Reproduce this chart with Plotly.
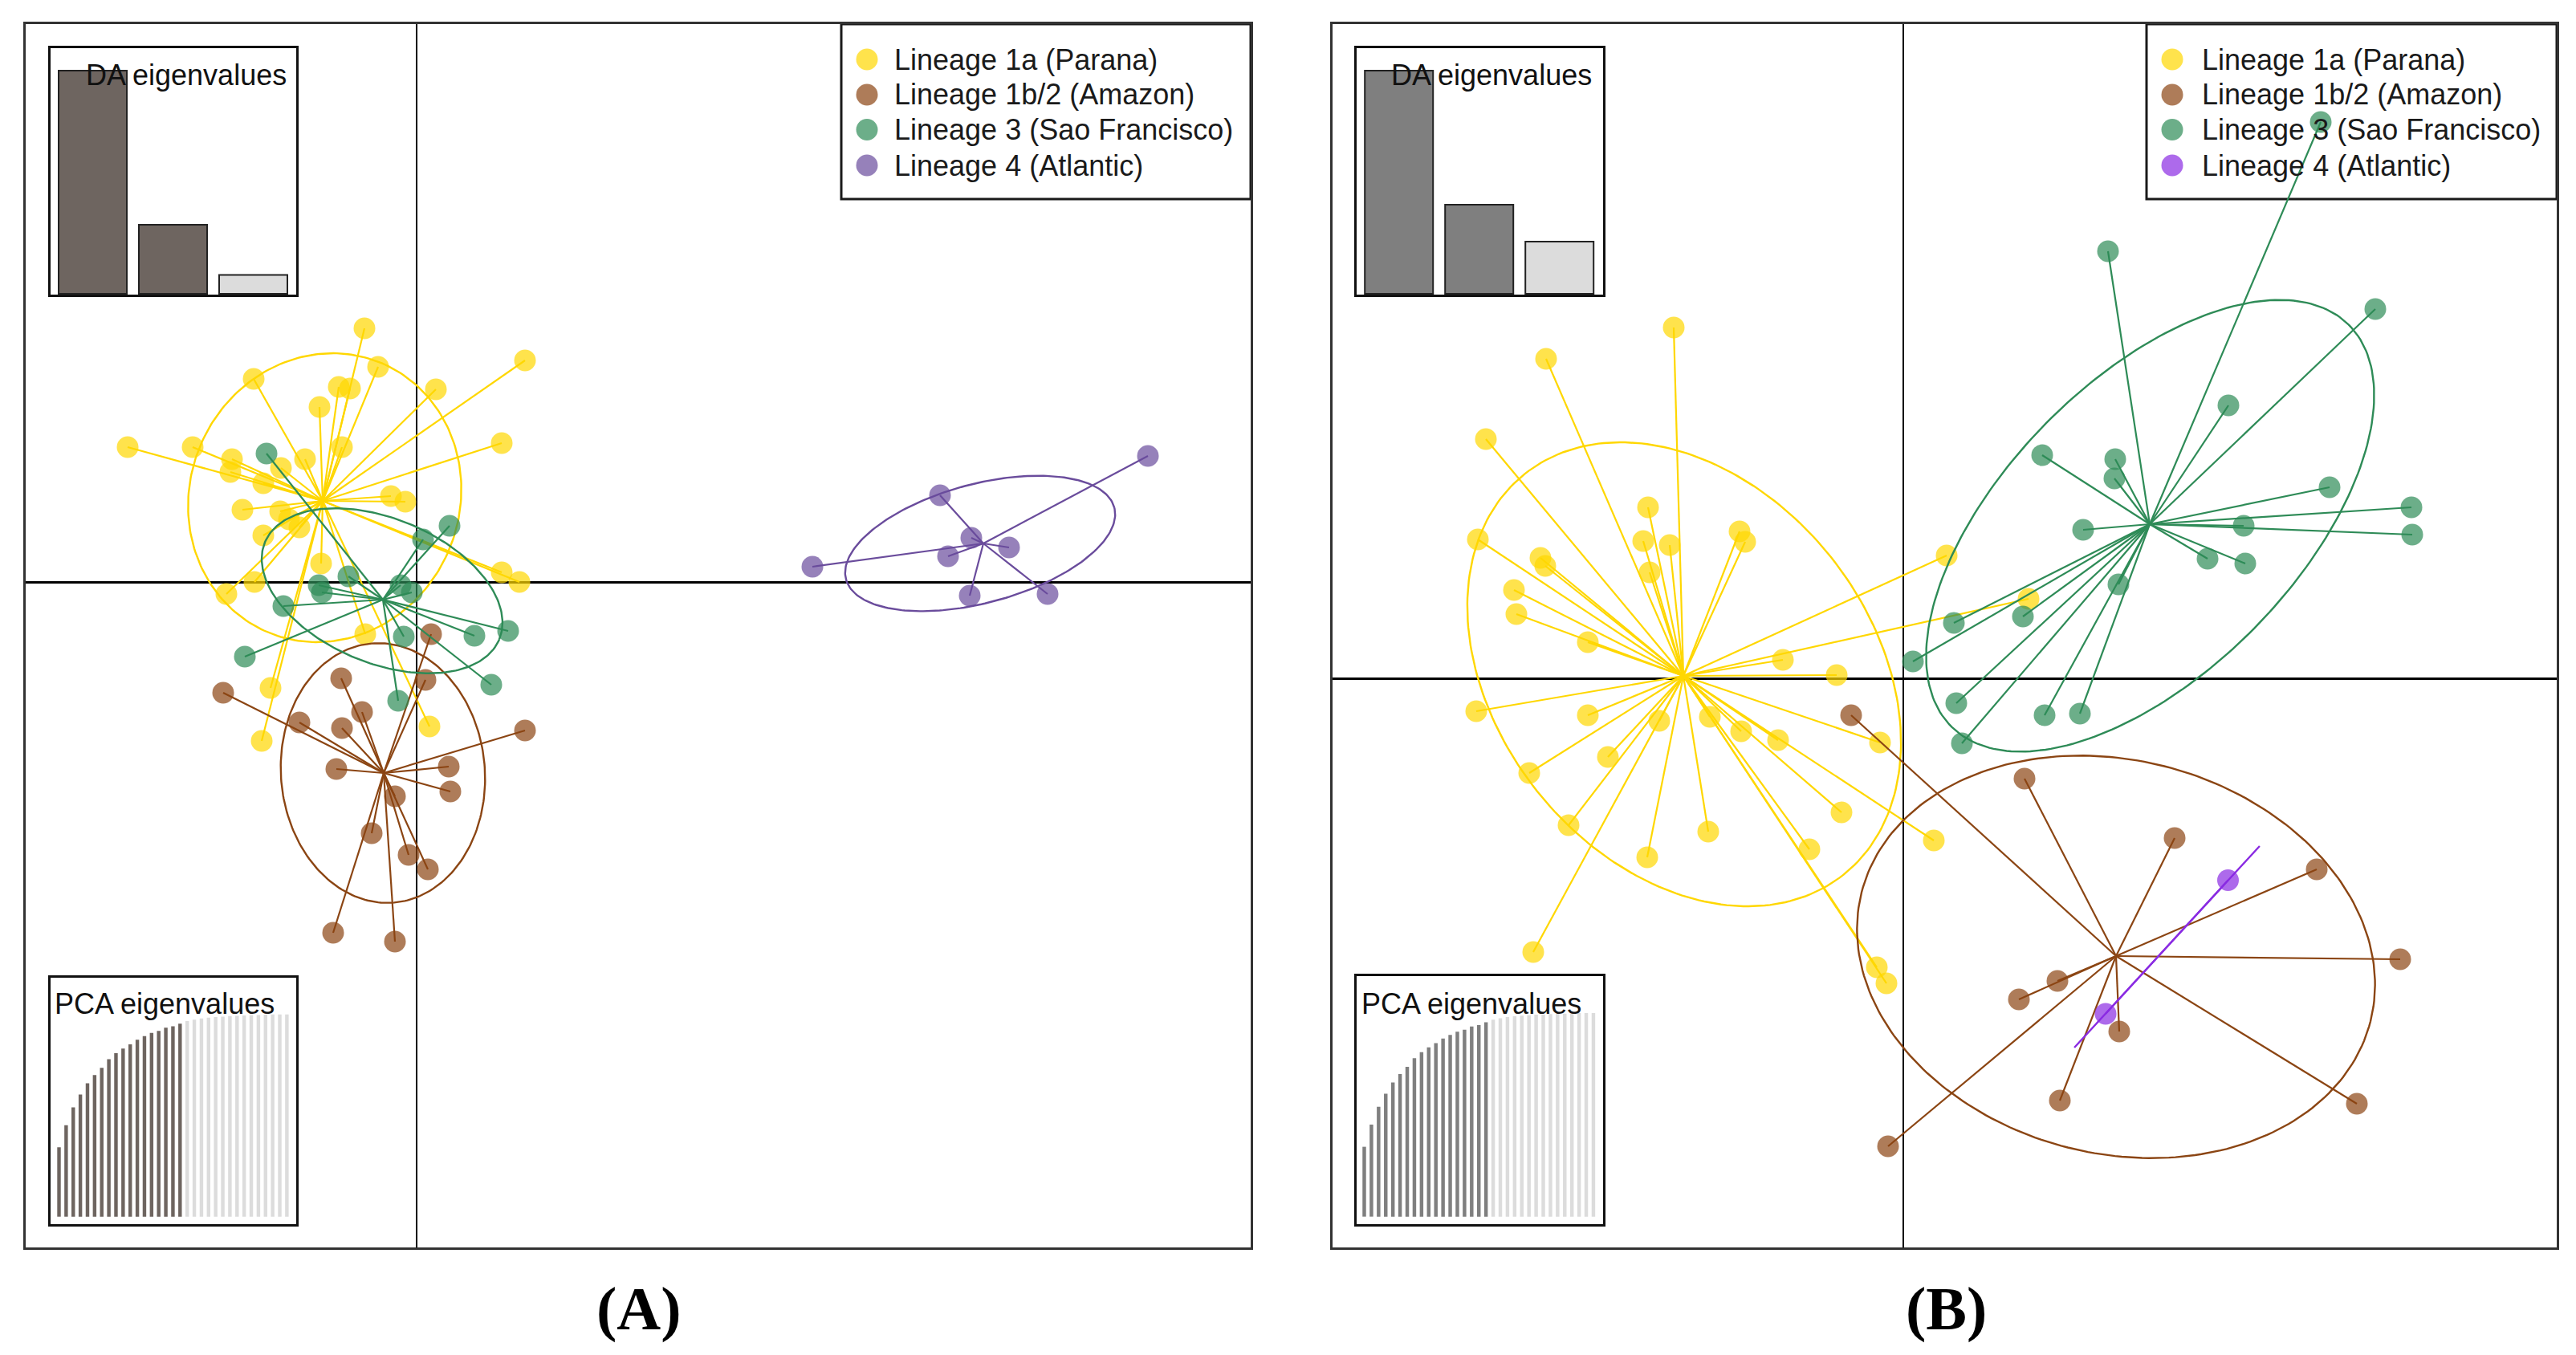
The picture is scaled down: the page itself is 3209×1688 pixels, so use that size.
import numpy as np
import plotly.graph_objects as go

# page body has an 8px default margin: figure is sized to fit inside it
PAGE_W, PAGE_H = 3209, 1688
OFF = 8
W, H = PAGE_W - 2 * OFF, PAGE_H - 2 * OFF

# ---------------- data ----------------
LINEAGES = ["Lineage 1a (Parana)", "Lineage 1b/2 (Amazon)",
            "Lineage 3 (Sao Francisco)", "Lineage 4 (Atlantic)"]

# ---- Panel A (LD1, LD2) ----
A_par_x = [-0.65, 1.35, -0.48, 0.24, -2.03, -0.97, -0.83, -1.21, 1.06, -3.60, -2.79,
           -2.30, -2.32, -0.93, -1.39, -1.69, -1.91, -0.32, -0.14, -2.17, -1.70, -1.59,
           -1.91, -1.46, -1.19, 1.06, 1.28, -2.02, -2.37, -0.64, -1.82, -1.93, 0.16]
A_par_y = [3.16, 2.76, 2.68, 2.40, 2.53, 2.43, 2.41, 2.18, 1.73, 1.68, 1.68,
           1.53, 1.37, 1.68, 1.53, 1.42, 1.23, 1.07, 1.00, 0.90, 0.88, 0.78,
           0.58, 0.68, 0.23, 0.12, 0.00, 0.00, -0.15, -0.65, -1.32, -1.98, -1.80]
A_ama_x = [0.18, -0.94, 0.11, -2.41, -0.68, -1.46, -0.93, 1.35, -1.00, 0.40, 0.42,
           -0.27, -0.56, -0.10, 0.14, -1.04, -0.27]
A_ama_y = [-0.65, -1.20, -1.22, -1.38, -1.62, -1.75, -1.82, -1.85, -2.33, -2.30, -2.61,
           -2.67, -3.13, -3.40, -3.58, -4.37, -4.48]
A_sfr_x = [-1.87, 0.41, 0.08, -0.85, -1.22, -1.18, -0.20, -0.06, -1.66, 1.14, 0.72,
           -0.16, -2.14, 0.93, -0.23]
A_sfr_y = [1.60, 0.70, 0.53, 0.07, -0.04, -0.13, -0.04, -0.13, -0.30, -0.61, -0.67,
           -0.68, -0.93, -1.28, -1.48]
A_atl_x = [9.11, 6.52, 6.91, 7.38, 6.62, 4.93, 6.89, 7.86]
A_atl_y = [1.57, 1.08, 0.55, 0.43, 0.32, 0.19, -0.17, -0.15]
# group centroids (star centres) for panel A: parana, amazon, sao francisco, atlantic
A_cent_x = [-1.17, -0.41, -0.42, 7.06]
A_cent_y = [1.01, -2.38, -0.22, 0.48]
# inertia ellipses: centre, semi-axes, angle (deg)
A_ell_cx = [-1.145, -0.42, -0.43, 7.02]
A_ell_cy = [1.05, -2.38, -0.11, 0.48]
A_ell_a = [1.82, 1.62, 1.58, 1.73]
A_ell_b = [1.68, 1.27, 0.90, 0.74]
A_ell_ang = [67.0, 95.0, -22.5, 15.0]

# ---- Panel B (LD1, LD2) ----
B_par_x = [-2.86, -4.45, -5.20, -3.18, -2.04, -1.97, -3.24, -2.91, -3.16, -5.30, -4.52,
           -4.46, -4.85, -4.82, -3.93, 0.54, -1.50, -0.83, 1.56, -5.32, -3.93, -3.04,
           -2.41, -2.02, -1.56, -0.29, -3.68, -4.66, -4.17, -2.43, -0.77, 0.38, -3.19,
           -1.17, -4.61, -0.33, -0.21]
B_par_y = [4.37, 3.98, 2.98, 2.13, 1.83, 1.70, 1.71, 1.66, 1.32, 1.73, 1.50,
           1.40, 1.10, 0.80, 0.45, 1.53, 0.23, 0.04, 0.99, -0.41, -0.46, -0.53,
           -0.48, -0.66, -0.77, -0.80, -0.98, -1.18, -1.83, -1.91, -1.67, -2.02, -2.23,
           -2.13, -3.41, -3.60, -3.80]
B_ama_x = [-0.65, 1.51, 3.38, 5.15, 6.19, 1.92, 1.44, 2.69, 1.95, 5.65, -0.19]
B_ama_y = [-0.46, -1.25, -1.99, -2.38, -3.50, -3.77, -4.00, -4.40, -5.26, -5.30, -5.83]
B_sfr_x = [5.20, 2.55, 5.88, 4.05, 1.73, 2.64, 2.63, 5.31, 6.33, 6.34, 4.24,
           2.24, 3.79, 4.26, 2.68, 1.49, 0.63, 0.12, 0.66, 1.76, 2.20, 0.73]
B_sfr_y = [6.93, 5.32, 4.60, 3.40, 2.78, 2.73, 2.49, 2.38, 2.13, 1.79, 1.90,
           1.85, 1.49, 1.43, 1.17, 0.77, 0.69, 0.21, -0.31, -0.46, -0.44, -0.81]
B_atl_x = [4.045, 2.52]
B_atl_y = [-2.515, -4.18]
B_cent_x = [-2.74, 2.65, 3.07, 3.285]
B_cent_y = [0.03, -3.46, 1.92, -3.345]
B_ell_cx = [-2.73, 2.65, 3.075, 3.285]
B_ell_cy = [0.05, -3.47, 1.90, -3.345]
B_ell_a = [3.19, 3.27, 3.52, 1.705]
B_ell_b = [2.34, 2.45, 1.82, 0.0]
B_ell_ang = [-51.5, -14.2, 45.4, 47.4]

# ---- insets ----
DA_EIG_A = [100.0, 30.9, 8.5]
DA_EIG_B = [100.0, 39.9, 23.4]
DA_RETAINED = [True, True, False]
PCA_CUMVAR = [34.3, 45.2, 54.0, 60.4, 65.9, 70.0, 73.6, 77.8, 80.8, 83.1, 85.2,
              87.5, 89.2, 90.8, 91.8, 93.4, 94.1, 95.4, 96.7, 97.4, 98.0, 98.4,
              98.7, 98.9, 99.2, 99.3, 99.5, 99.6, 99.7, 99.9, 100.0, 100.0, 100.0]
PCA_N_RETAINED = 18

# ---------------- styling ----------------
COLS_A = ["#FFD700", "#8B4513", "#2E8B57", "#6A4C9C"]
COLS_B = ["#FFD700", "#8B4513", "#2E8B57", "#8A2BE2"]
DARK_A, DARK_B, LIGHT = "#6E6560", "#7F7F7F", "#DCDCDC"
ALPHA = 0.7
FONT = "Liberation Sans, Arial, sans-serif"


def rgba(hexc, a):
    h = hexc.lstrip("#")
    r, g, b = int(h[0:2], 16), int(h[2:4], 16), int(h[4:6], 16)
    return f"rgba({r},{g},{b},{a})"


def px2paper_x(px):
    return (px - OFF) / W


def px2paper_y(py):
    return 1 - (py - OFF) / H


fig = go.Figure()


def add_group(xa, ya, px, py, cx, cy, ecx, ecy, ea, eb, eang, col):
    sx, sy = [], []
    for x, y in zip(px, py):
        sx += [cx, x, None]
        sy += [cy, y, None]
    fig.add_trace(go.Scatter(x=sx, y=sy, mode="lines", xaxis=xa, yaxis=ya,
                             line=dict(color=col, width=2.2), hoverinfo="skip",
                             showlegend=False))
    t = np.linspace(0, 2 * np.pi, 241)
    th = np.deg2rad(eang)
    ex = ecx + ea * np.cos(th) * np.cos(t) - eb * np.sin(th) * np.sin(t)
    ey = ecy + ea * np.sin(th) * np.cos(t) + eb * np.cos(th) * np.sin(t)
    fig.add_trace(go.Scatter(x=ex, y=ey, mode="lines", xaxis=xa, yaxis=ya,
                             line=dict(color=col, width=2.4), hoverinfo="skip",
                             showlegend=False))
    fig.add_trace(go.Scatter(x=px, y=py, mode="markers", xaxis=xa, yaxis=ya,
                             marker=dict(size=27, color=rgba(col, ALPHA),
                                         line=dict(width=0)),
                             showlegend=False))


A_groups = [(A_par_x, A_par_y), (A_ama_x, A_ama_y), (A_sfr_x, A_sfr_y), (A_atl_x, A_atl_y)]
B_groups = [(B_par_x, B_par_y), (B_ama_x, B_ama_y), (B_sfr_x, B_sfr_y), (B_atl_x, B_atl_y)]

for i, (gx, gy) in enumerate(A_groups):
    add_group("x", "y", gx, gy, A_cent_x[i], A_cent_y[i], A_ell_cx[i], A_ell_cy[i],
              A_ell_a[i], A_ell_b[i], A_ell_ang[i], COLS_A[i])
for i, (gx, gy) in enumerate(B_groups):
    add_group("x2", "y2", gx, gy, B_cent_x[i], B_cent_y[i], B_ell_cx[i], B_ell_cy[i],
              B_ell_a[i], B_ell_b[i], B_ell_ang[i], COLS_B[i])

# inset bars
fig.add_trace(go.Bar(x=list(range(len(DA_EIG_A))), y=DA_EIG_A, xaxis="x3", yaxis="y3",
                     width=0.85, showlegend=False,
                     marker=dict(color=[DARK_A if r else LIGHT for r in DA_RETAINED],
                                 line=dict(color="#222222", width=2))))
fig.add_trace(go.Bar(x=list(range(len(PCA_CUMVAR))), y=PCA_CUMVAR, xaxis="x4", yaxis="y4",
                     width=0.5, showlegend=False,
                     marker=dict(color=[DARK_A if i < PCA_N_RETAINED else LIGHT
                                        for i in range(len(PCA_CUMVAR))],
                                 line=dict(width=0))))
fig.add_trace(go.Bar(x=list(range(len(DA_EIG_B))), y=DA_EIG_B, xaxis="x5", yaxis="y5",
                     width=0.85, showlegend=False,
                     marker=dict(color=[DARK_B if r else LIGHT for r in DA_RETAINED],
                                 line=dict(color="#222222", width=2))))
fig.add_trace(go.Bar(x=list(range(len(PCA_CUMVAR))), y=PCA_CUMVAR, xaxis="x6", yaxis="y6",
                     width=0.5, showlegend=False,
                     marker=dict(color=[DARK_B if i < PCA_N_RETAINED else LIGHT
                                        for i in range(len(PCA_CUMVAR))],
                                 line=dict(width=0))))

# ---------------- layout ----------------
main_ax = dict(showgrid=False, showticklabels=False, ticks="", zeroline=True,
               zerolinecolor="black", showline=True, mirror=True,
               linecolor="#333333", linewidth=3, fixedrange=True)
inset_ax = dict(showgrid=False, showticklabels=False, ticks="", zeroline=False,
                showline=True, mirror=True, linecolor="#111111", linewidth=3,
                fixedrange=True)

A_L, A_R, B_L, B_R, TOP, BOT = 31.6, 1558.0, 1659.5, 3185.0, 30.0, 1554.0
ydom = [px2paper_y(BOT), px2paper_y(TOP)]

layout = dict(
    width=W, height=H, margin=dict(l=0, r=0, t=0, b=0),
    paper_bgcolor="white", plot_bgcolor="rgba(0,0,0,0)",
    showlegend=False,
    xaxis=dict(main_ax, domain=[px2paper_x(A_L), px2paper_x(A_R)], range=[-4.874, 10.39],
               anchor="y", zerolinewidth=2),
    yaxis=dict(main_ax, domain=ydom, range=[-8.29, 6.95], anchor="x", zerolinewidth=3),
    xaxis2=dict(main_ax, domain=[px2paper_x(B_L), px2paper_x(B_R)], range=[-7.115, 8.14],
                anchor="y2", zerolinewidth=2),
    yaxis2=dict(main_ax, domain=ydom, range=[-7.09, 8.15], anchor="x2", zerolinewidth=3),
    # DA inset A
    xaxis3=dict(inset_ax, domain=[px2paper_x(63), px2paper_x(369)], range=[-0.525, 2.535],
                anchor="y3"),
    yaxis3=dict(inset_ax, domain=[px2paper_y(367), px2paper_y(60)], range=[-0.36, 110.1],
                anchor="x3"),
    # PCA inset A
    xaxis4=dict(inset_ax, domain=[px2paper_x(63), px2paper_x(369)], range=[-1.184, 33.31],
                anchor="y4"),
    yaxis4=dict(inset_ax, domain=[px2paper_y(1525), px2paper_y(1218)], range=[-3.69, 118.1],
                anchor="x4"),
    # DA inset B
    xaxis5=dict(inset_ax, domain=[px2paper_x(1690), px2paper_x(1997)], range=[-0.527, 2.543],
                anchor="y5"),
    yaxis5=dict(inset_ax, domain=[px2paper_y(367), px2paper_y(60)], range=[-0.36, 110.1],
                anchor="x5"),
    # PCA inset B
    xaxis6=dict(inset_ax, domain=[px2paper_x(1690), px2paper_x(1997)], range=[-1.065, 33.35],
                anchor="y6"),
    yaxis6=dict(inset_ax, domain=[px2paper_y(1525), px2paper_y(1216)], range=[-3.69, 118.1],
                anchor="x6"),
)
fig.update_layout(**layout)

shapes = []
annots = []
ROW_Y = [74, 118, 161.5, 206]
LEG_BOTTOM = 248
for (L, R, box_left, dot_x, txt_x, cols) in [(A_L, A_R, 1048, 1080, 1112, COLS_A),
                                             (B_L, B_R, 2674, 2706, 2741, COLS_B)]:
    shapes.append(dict(type="rect", xref="paper", yref="paper", layer="below",
                       x0=px2paper_x(box_left), x1=px2paper_x(R),
                       y0=px2paper_y(LEG_BOTTOM), y1=px2paper_y(TOP),
                       fillcolor="white", line=dict(color="#1a1a1a", width=3)))
    for k, ry in enumerate(ROW_Y):
        r = 13.5
        shapes.append(dict(type="circle", xref="paper", yref="paper", layer="above",
                           x0=px2paper_x(dot_x - r), x1=px2paper_x(dot_x + r),
                           y0=px2paper_y(ry + r), y1=px2paper_y(ry - r),
                           fillcolor=rgba(cols[k], ALPHA), line=dict(width=0)))
        annots.append(dict(x=px2paper_x(txt_x), y=px2paper_y(ry), xref="paper", yref="paper",
                           xanchor="left", yanchor="middle", showarrow=False,
                           text=LINEAGES[k], font=dict(family=FONT, size=36, color="#1a1a1a")))

for (da_right, pca_left) in [(359, 66), (1985, 1694)]:
    annots.append(dict(x=px2paper_x(da_right), y=px2paper_y(93), xref="paper", yref="paper",
                       xanchor="right", yanchor="middle", showarrow=False,
                       text="DA eigenvalues", font=dict(family=FONT, size=36, color="#111111")))
    annots.append(dict(x=px2paper_x(pca_left), y=px2paper_y(1250), xref="paper", yref="paper",
                       xanchor="left", yanchor="middle", showarrow=False,
                       text="PCA eigenvalues", font=dict(family=FONT, size=36, color="#111111")))

for (lab, lx) in [("(A)", 796), ("(B)", 2424)]:
    annots.append(dict(x=px2paper_x(lx), y=px2paper_y(1630), xref="paper", yref="paper",
                       xanchor="center", yanchor="middle", showarrow=False,
                       text=f"<b>{lab}</b>",
                       font=dict(family="Liberation Serif, Times New Roman, serif",
                                 size=76, color="black")))

fig.update_layout(shapes=shapes, annotations=annots)
fig.write_html("out.html")
